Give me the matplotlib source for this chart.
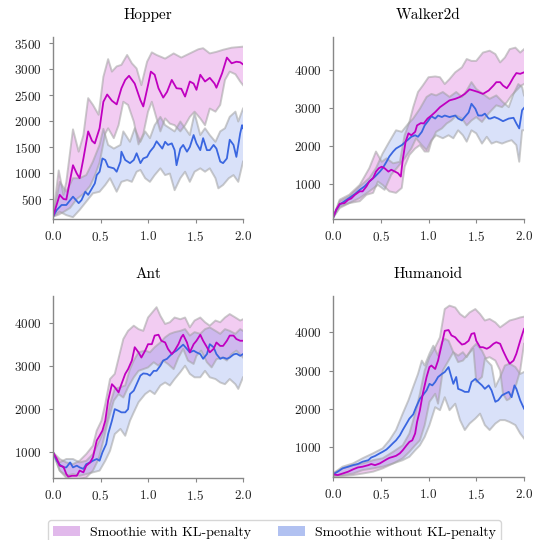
import numpy as np
import matplotlib
matplotlib.use("Agg")
import matplotlib.pyplot as plt
from matplotlib.patches import Patch

plt.rcParams['font.family'] = ['cmr10', 'DejaVu Serif']
plt.rcParams['axes.formatter.use_mathtext'] = True

# (x, value) pairs; x in training steps (scaled)
# ---- Hopper ----
hop_kl = [(0.00, 160), (0.07, 580), (0.11, 500), (0.14, 490), (0.21, 1150), (0.25, 990), (0.28, 900),
          (0.32, 1280), (0.37, 1800), (0.41, 1620), (0.44, 1570), (0.49, 1860), (0.53, 2370), (0.57, 2510),
          (0.62, 2390), (0.67, 2320), (0.72, 2630), (0.76, 2790), (0.80, 2870), (0.86, 2720), (0.92, 2400),
          (0.95, 2280), (1.00, 2690), (1.03, 2950), (1.07, 2890), (1.11, 2630), (1.16, 2450), (1.20, 2560),
          (1.25, 2790), (1.30, 2630), (1.35, 2620), (1.39, 2470), (1.44, 2760), (1.48, 2720), (1.51, 2600),
          (1.55, 2890), (1.60, 2760), (1.65, 2830), (1.70, 2720), (1.72, 2640), (1.78, 2920), (1.83, 3220),
          (1.88, 3110), (1.93, 3140), (1.97, 3130), (2.00, 3090)]
hop_kl_hi = [(0.00, 160), (0.06, 1050), (0.11, 580), (0.14, 830), (0.21, 1840), (0.27, 1410), (0.32, 1730),
             (0.37, 2440), (0.42, 2310), (0.48, 2120), (0.53, 2850), (0.58, 3190), (0.62, 2950), (0.67, 3050),
             (0.72, 3080), (0.78, 3270), (0.83, 3110), (0.88, 3010), (0.93, 2690), (0.99, 3140), (1.04, 3320),
             (1.09, 3270), (1.18, 3200), (1.27, 3300), (1.35, 3220), (1.44, 3300), (1.53, 3380), (1.58, 3400),
             (1.65, 3300), (1.72, 3330), (1.79, 3370), (1.88, 3410), (2.00, 3430)]
hop_kl_lo = [(0.00, 160), (0.06, 200), (0.11, 250), (0.18, 330), (0.25, 500), (0.32, 600), (0.39, 750),
             (0.44, 950), (0.49, 1200), (0.55, 1760), (0.58, 1860), (0.64, 1670), (0.69, 1920), (0.74, 2370),
             (0.79, 2310), (0.85, 1990), (0.90, 1550), (0.95, 1750), (1.00, 2180), (1.04, 2370), (1.09, 2050),
             (1.13, 1800), (1.18, 2050), (1.23, 1950), (1.28, 1920), (1.34, 1800), (1.39, 1920), (1.44, 2080),
             (1.49, 2180), (1.55, 2050), (1.60, 1920), (1.65, 2240), (1.71, 2180), (1.76, 2310), (1.81, 2790),
             (1.86, 2950), (1.92, 2900), (1.97, 2760), (2.00, 2690)]
hop_no = [(0.00, 160), (0.04, 290), (0.09, 385), (0.14, 385), (0.21, 545), (0.27, 420), (0.30, 480),
          (0.34, 640), (0.37, 580), (0.41, 705), (0.44, 800), (0.46, 960), (0.49, 1025), (0.52, 1280),
          (0.55, 1250), (0.58, 1120), (0.64, 1090), (0.67, 1025), (0.71, 1220), (0.72, 1410), (0.76, 1250),
          (0.81, 1190), (0.85, 1250), (0.88, 1380), (0.92, 1190), (0.95, 1280), (0.99, 1310), (1.02, 1410),
          (1.06, 1500), (1.09, 1610), (1.12, 1540), (1.15, 1470), (1.18, 1600), (1.21, 1540), (1.25, 1570),
          (1.28, 1440), (1.30, 1150), (1.34, 1470), (1.37, 1540), (1.41, 1410), (1.44, 1500), (1.48, 1730),
          (1.51, 1570), (1.55, 1440), (1.58, 1670), (1.62, 1440), (1.65, 1440), (1.69, 1540), (1.72, 1470),
          (1.76, 1220), (1.79, 1190), (1.83, 1280), (1.86, 1640), (1.90, 1540), (1.93, 1310), (1.97, 1760),
          (1.99, 1920), (2.00, 1860)]
hop_no_hi = [(0.00, 160), (0.07, 830), (0.14, 640), (0.21, 900), (0.28, 900), (0.35, 960), (0.42, 1220),
             (0.49, 1540), (0.53, 1850), (0.58, 1540), (0.64, 1470), (0.71, 1540), (0.74, 1800), (0.81, 1600),
             (0.86, 1860), (0.92, 1600), (0.97, 1800), (1.02, 1670), (1.07, 1920), (1.13, 2080), (1.18, 1920),
             (1.23, 1860), (1.28, 1800), (1.34, 1990), (1.39, 1860), (1.44, 1730), (1.49, 2150), (1.55, 1730),
             (1.60, 1860), (1.65, 1730), (1.71, 1600), (1.76, 1800), (1.81, 1860), (1.86, 2080), (1.92, 2180),
             (1.95, 1990), (2.00, 2240)]
hop_no_lo = [(0.00, 160), (0.07, 256), (0.14, 190), (0.21, 150), (0.28, 290), (0.35, 450), (0.42, 610),
             (0.49, 640), (0.55, 770), (0.60, 900), (0.67, 640), (0.72, 830), (0.78, 865), (0.83, 830),
             (0.88, 1025), (0.92, 1060), (0.97, 900), (1.02, 830), (1.07, 960), (1.13, 1090), (1.18, 960),
             (1.23, 990), (1.28, 670), (1.34, 900), (1.39, 1025), (1.44, 830), (1.49, 1025), (1.55, 1090),
             (1.60, 1025), (1.65, 1090), (1.71, 900), (1.74, 705), (1.79, 770), (1.85, 900), (1.90, 960),
             (1.95, 830), (2.00, 1220)]

# ---- Walker2d ----
wal_kl = [(0.00, 100), (0.035, 320), (0.07, 470), (0.12, 490), (0.16, 580), (0.19, 610), (0.23, 710),
          (0.28, 800), (0.31, 800), (0.35, 930), (0.38, 1060), (0.42, 1150), (0.45, 1320), (0.48, 1410),
          (0.51, 1450), (0.54, 1410), (0.58, 1320), (0.61, 1370), (0.65, 1320), (0.68, 1280), (0.71, 1190),
          (0.73, 1630), (0.76, 2110), (0.79, 2330), (0.82, 2280), (0.86, 2370), (0.88, 2540), (0.92, 2600),
          (0.95, 2590), (0.99, 2720), (1.03, 2800), (1.07, 2890), (1.12, 3020), (1.17, 3110), (1.22, 3200),
          (1.28, 3240), (1.33, 3290), (1.38, 3370), (1.43, 3490), (1.47, 3460), (1.52, 3420), (1.57, 3370),
          (1.63, 3460), (1.68, 3590), (1.71, 3680), (1.75, 3680), (1.78, 3590), (1.82, 3520), (1.85, 3630),
          (1.89, 3810), (1.92, 3920), (1.96, 3900), (2.00, 3940)]
wal_kl_hi = [(0.00, 100), (0.07, 580), (0.17, 710), (0.28, 970), (0.38, 1410), (0.45, 1850), (0.51, 1580),
             (0.56, 1670), (0.63, 1540), (0.70, 1580), (0.75, 2280), (0.80, 2630), (0.84, 3020), (0.89, 3420),
             (0.94, 3590), (1.00, 3810), (1.07, 3830), (1.12, 3810), (1.17, 3630), (1.22, 3760), (1.28, 3940),
             (1.35, 4070), (1.40, 4290), (1.45, 4240), (1.50, 4240), (1.57, 4460), (1.64, 4510), (1.70, 4420),
             (1.75, 4200), (1.80, 4330), (1.85, 4550), (1.91, 4590), (1.96, 4460), (2.00, 4550)]
wal_kl_lo = [(0.00, 100), (0.07, 360), (0.17, 490), (0.28, 540), (0.35, 710), (0.42, 760), (0.47, 1060),
             (0.52, 970), (0.59, 800), (0.66, 760), (0.72, 890), (0.75, 1450), (0.80, 1760), (0.86, 1930),
             (0.91, 2020), (0.96, 1850), (1.00, 1850), (1.03, 2110), (1.08, 2370), (1.14, 2460), (1.19, 2590),
             (1.24, 2670), (1.29, 2800), (1.35, 2720), (1.40, 2540), (1.45, 2670), (1.50, 2760), (1.56, 2630),
             (1.61, 2800), (1.66, 2940), (1.71, 3070), (1.77, 3020), (1.82, 3150), (1.87, 3330), (1.92, 3460),
             (1.97, 3590), (2.00, 3630)]
wal_no = [(0.00, 100), (0.035, 320), (0.07, 450), (0.12, 540), (0.17, 625), (0.23, 730), (0.28, 840),
          (0.33, 930), (0.38, 1060), (0.44, 1190), (0.49, 1320), (0.52, 1410), (0.56, 1580), (0.59, 1720),
          (0.63, 1850), (0.66, 1930), (0.72, 2020), (0.77, 2130), (0.82, 2240), (0.86, 2280), (0.89, 2240),
          (0.93, 2370), (0.96, 2540), (1.00, 2670), (1.03, 2780), (1.07, 2720), (1.10, 2800), (1.14, 2760),
          (1.17, 2800), (1.22, 2760), (1.28, 2800), (1.31, 2720), (1.35, 2670), (1.38, 2760), (1.42, 2880),
          (1.45, 3110), (1.49, 2980), (1.52, 2800), (1.56, 2800), (1.59, 2850), (1.63, 2720), (1.65, 2720),
          (1.69, 2760), (1.73, 2720), (1.78, 2650), (1.84, 2720), (1.89, 2740), (1.92, 2590), (1.95, 2460),
          (1.98, 2940), (2.00, 3000)]
wal_no_hi = [(0.00, 100), (0.07, 540), (0.17, 670), (0.28, 930), (0.38, 1150), (0.45, 1410), (0.52, 1800),
             (0.59, 2110), (0.66, 2410), (0.72, 2370), (0.79, 2590), (0.84, 2720), (0.91, 2980), (0.98, 3290),
             (1.03, 3370), (1.08, 3330), (1.15, 3420), (1.22, 3290), (1.29, 3420), (1.35, 3290), (1.40, 3460),
             (1.45, 3680), (1.50, 3500), (1.57, 3370), (1.64, 3240), (1.71, 3330), (1.78, 3150), (1.84, 3020),
             (1.89, 3370), (1.94, 3630), (1.98, 3550), (2.00, 3330)]
wal_no_lo = [(0.00, 100), (0.07, 400), (0.17, 490), (0.28, 625), (0.38, 800), (0.47, 970), (0.54, 840),
             (0.61, 1240), (0.68, 1450), (0.75, 1670), (0.82, 1930), (0.87, 2200), (0.93, 2020), (0.98, 1890),
             (1.03, 2150), (1.08, 2280), (1.15, 2200), (1.21, 2280), (1.26, 2200), (1.31, 2410), (1.36, 2280),
             (1.40, 2110), (1.45, 2410), (1.50, 2330), (1.56, 2060), (1.61, 2240), (1.66, 2060), (1.71, 2110),
             (1.77, 2060), (1.82, 2110), (1.87, 2150), (1.92, 2020), (1.95, 1580), (1.98, 2410), (2.00, 2410)]

# ---- Ant ----
ant_kl = [(0.00, 985), (0.04, 830), (0.07, 675), (0.11, 650), (0.14, 480), (0.16, 420), (0.20, 440),
          (0.25, 440), (0.28, 560), (0.32, 520), (0.35, 675), (0.39, 750), (0.42, 870), (0.46, 1260),
          (0.49, 1370), (0.52, 1490), (0.55, 1720), (0.58, 2190), (0.62, 2570), (0.65, 2500), (0.69, 2380),
          (0.72, 2570), (0.76, 2810), (0.79, 2920), (0.83, 3120), (0.86, 3430), (0.90, 3310), (0.93, 3190),
          (0.97, 3350), (1.00, 3500), (1.04, 3500), (1.07, 3700), (1.11, 3720), (1.14, 3580), (1.18, 3540),
          (1.21, 3390), (1.25, 3270), (1.28, 3350), (1.32, 3500), (1.35, 3660), (1.37, 3720), (1.41, 3540),
          (1.44, 3310), (1.48, 3500), (1.51, 3580), (1.55, 3720), (1.58, 3580), (1.62, 3430), (1.65, 3310),
          (1.69, 3390), (1.72, 3540), (1.76, 3460), (1.79, 3460), (1.83, 3580), (1.86, 3700), (1.90, 3700),
          (1.93, 3620), (1.97, 3580), (2.00, 3580)]
ant_kl_hi = [(0.00, 985), (0.07, 830), (0.14, 750), (0.21, 710), (0.28, 790), (0.35, 945), (0.42, 1140),
             (0.46, 1490), (0.51, 1720), (0.55, 2110), (0.60, 2690), (0.65, 2810), (0.71, 3350), (0.74, 3620),
             (0.79, 3810), (0.85, 3930), (0.90, 3850), (0.95, 3810), (1.00, 4120), (1.06, 4280), (1.09, 4360),
             (1.13, 4160), (1.18, 3970), (1.23, 4010), (1.28, 4120), (1.34, 4080), (1.39, 4120), (1.44, 3890),
             (1.49, 4050), (1.55, 4120), (1.60, 4010), (1.65, 3930), (1.71, 4050), (1.76, 4010), (1.81, 4120),
             (1.86, 4200), (1.92, 4120), (1.97, 4050), (2.00, 4080)]
ant_kl_lo = [(0.00, 985), (0.07, 560), (0.14, 390), (0.21, 370), (0.28, 370), (0.35, 400), (0.42, 560),
             (0.48, 830), (0.53, 1260), (0.58, 1720), (0.64, 2190), (0.69, 2340), (0.74, 2260), (0.79, 2500),
             (0.85, 2730), (0.90, 2880), (0.95, 2920), (1.00, 2960), (1.06, 3080), (1.11, 3000), (1.16, 3120),
             (1.21, 3040), (1.27, 2920), (1.32, 3190), (1.37, 3390), (1.42, 3120), (1.48, 3040), (1.51, 3230),
             (1.56, 3350), (1.62, 3080), (1.67, 2960), (1.72, 3150), (1.78, 3190), (1.83, 3120), (1.88, 3270),
             (1.93, 3350), (2.00, 3190)]
ant_no = [(0.00, 985), (0.04, 790), (0.07, 700), (0.11, 635), (0.14, 635), (0.18, 750), (0.21, 635),
          (0.25, 675), (0.28, 635), (0.32, 600), (0.35, 710), (0.39, 750), (0.42, 790), (0.46, 830),
          (0.49, 790), (0.52, 985), (0.56, 1180), (0.58, 1410), (0.62, 1720), (0.65, 1990), (0.69, 1950),
          (0.72, 1915), (0.76, 1915), (0.79, 1990), (0.81, 2340), (0.85, 2420), (0.88, 2570), (0.92, 2770),
          (0.95, 2820), (0.99, 2810), (1.02, 2770), (1.06, 2880), (1.09, 2880), (1.13, 3000), (1.16, 3120),
          (1.20, 3160), (1.23, 3230), (1.27, 3310), (1.30, 3350), (1.34, 3430), (1.37, 3490), (1.41, 3390),
          (1.44, 3310), (1.48, 3350), (1.51, 3310), (1.55, 3270), (1.58, 3160), (1.62, 3270), (1.65, 3500),
          (1.69, 3430), (1.72, 3270), (1.76, 3160), (1.79, 3190), (1.83, 3160), (1.86, 3190), (1.90, 3260),
          (1.93, 3280), (1.97, 3230), (2.00, 3270)]
ant_no_hi = [(0.00, 985), (0.07, 750), (0.14, 830), (0.21, 830), (0.28, 750), (0.35, 790), (0.42, 945),
             (0.49, 1260), (0.55, 1570), (0.60, 2110), (0.65, 2460), (0.71, 2500), (0.76, 2540), (0.81, 2920),
             (0.85, 3120), (0.90, 3310), (0.97, 3350), (1.02, 3310), (1.07, 3430), (1.13, 3540), (1.18, 3660),
             (1.23, 3740), (1.28, 3780), (1.34, 3810), (1.39, 3850), (1.44, 3700), (1.49, 3780), (1.55, 3740),
             (1.60, 3850), (1.65, 3890), (1.71, 3810), (1.76, 3740), (1.81, 3850), (1.86, 3810), (1.92, 3740),
             (1.97, 3850), (2.00, 3810)]
ant_no_lo = [(0.00, 985), (0.07, 560), (0.14, 440), (0.21, 480), (0.28, 440), (0.35, 480), (0.42, 520),
             (0.49, 560), (0.55, 790), (0.60, 1020), (0.65, 1410), (0.71, 1530), (0.76, 1370), (0.81, 1720),
             (0.85, 1915), (0.90, 2150), (0.97, 2340), (1.02, 2420), (1.07, 2340), (1.13, 2540), (1.18, 2610),
             (1.23, 2540), (1.28, 2690), (1.34, 2850), (1.39, 3000), (1.44, 2810), (1.49, 2730), (1.55, 2730),
             (1.60, 2880), (1.65, 2730), (1.71, 2690), (1.76, 2610), (1.81, 2570), (1.86, 2690), (1.92, 2570),
             (1.95, 2460), (2.00, 2730)]

# ---- Humanoid ----
hum_kl = [(0.00, 280), (0.05, 260), (0.10, 300), (0.16, 350), (0.21, 410), (0.26, 460), (0.31, 480),
          (0.37, 520), (0.40, 550), (0.44, 520), (0.49, 565), (0.52, 610), (0.56, 670), (0.59, 710),
          (0.63, 740), (0.66, 765), (0.70, 830), (0.73, 910), (0.77, 1040), (0.80, 1130), (0.83, 1170),
          (0.86, 1350), (0.88, 1650), (0.91, 1960), (0.94, 2390), (0.98, 2830), (1.01, 3090), (1.03, 3130),
          (1.07, 3040), (1.10, 3260), (1.14, 3700), (1.17, 4040), (1.21, 4060), (1.24, 3920), (1.28, 3870),
          (1.31, 3780), (1.35, 3680), (1.38, 3700), (1.42, 3780), (1.45, 3960), (1.48, 3980), (1.50, 3780),
          (1.54, 3610), (1.57, 3610), (1.61, 3570), (1.64, 3610), (1.68, 3700), (1.71, 3740), (1.75, 3700),
          (1.78, 3520), (1.82, 3310), (1.85, 3180), (1.89, 3260), (1.92, 3440), (1.96, 3780), (2.00, 4090)]
hum_kl_hi = [(0.00, 300), (0.10, 435), (0.21, 520), (0.31, 565), (0.42, 650), (0.52, 700), (0.63, 870),
             (0.73, 1040), (0.80, 1350), (0.86, 1870), (0.91, 2390), (0.96, 3000), (1.01, 3350), (1.07, 3610),
             (1.12, 3870), (1.17, 4610), (1.22, 4700), (1.28, 4650), (1.33, 4480), (1.38, 4390), (1.43, 4520),
             (1.49, 4610), (1.54, 4480), (1.59, 4310), (1.64, 4350), (1.70, 4260), (1.75, 4130), (1.80, 4220),
             (1.85, 4310), (1.91, 4350), (1.96, 4390), (2.00, 4410)]
hum_kl_lo = [(0.00, 250), (0.10, 234), (0.21, 260), (0.31, 300), (0.42, 350), (0.52, 435), (0.63, 565),
             (0.73, 700), (0.80, 870), (0.86, 1040), (0.91, 1170), (0.96, 1570), (1.01, 2180), (1.07, 2390),
             (1.10, 2130), (1.15, 3000), (1.21, 3260), (1.26, 3480), (1.31, 3220), (1.36, 3260), (1.42, 3440),
             (1.47, 3570), (1.50, 2700), (1.56, 2830), (1.59, 3310), (1.64, 3350), (1.70, 3260), (1.75, 3000),
             (1.78, 2390), (1.82, 2220), (1.85, 2260), (1.89, 2480), (1.92, 2650), (1.96, 3000), (2.00, 3700)]
hum_no = [(0.00, 280), (0.05, 350), (0.10, 435), (0.16, 480), (0.21, 520), (0.26, 550), (0.31, 610),
          (0.37, 650), (0.40, 720), (0.44, 760), (0.49, 830), (0.52, 870), (0.56, 930), (0.59, 1000),
          (0.63, 1100), (0.66, 1170), (0.70, 1300), (0.73, 1440), (0.77, 1610), (0.80, 1740), (0.84, 1850),
          (0.87, 2040), (0.91, 2260), (0.94, 2350), (0.98, 2480), (1.01, 2650), (1.04, 2610), (1.07, 2700),
          (1.10, 2830), (1.14, 2910), (1.17, 2960), (1.21, 3090), (1.23, 2910), (1.26, 2650), (1.29, 2830),
          (1.31, 2520), (1.35, 2480), (1.38, 2440), (1.42, 2440), (1.45, 2700), (1.49, 2780), (1.52, 2700),
          (1.56, 2610), (1.59, 2520), (1.63, 2610), (1.66, 2480), (1.70, 2180), (1.73, 2220), (1.77, 2350),
          (1.80, 2390), (1.84, 2440), (1.87, 2300), (1.90, 2610), (1.92, 2520), (1.96, 2220), (2.00, 2000)]
hum_no_hi = [(0.00, 300), (0.10, 480), (0.21, 565), (0.31, 700), (0.42, 830), (0.52, 960), (0.59, 1170),
             (0.66, 1440), (0.73, 1870), (0.79, 2220), (0.84, 2570), (0.89, 2910), (0.93, 3260), (0.96, 3130),
             (1.01, 3440), (1.05, 3650), (1.10, 3390), (1.14, 3740), (1.17, 3830), (1.21, 3780), (1.26, 3480),
             (1.31, 3390), (1.36, 3480), (1.40, 3350), (1.45, 3570), (1.50, 3700), (1.56, 3520), (1.61, 3260),
             (1.66, 3130), (1.70, 2570), (1.75, 2830), (1.80, 3130), (1.85, 3180), (1.91, 3090), (1.96, 2910),
             (2.00, 2960)]
hum_no_lo = [(0.00, 230), (0.10, 260), (0.21, 300), (0.31, 390), (0.42, 435), (0.52, 480), (0.63, 565),
             (0.73, 650), (0.80, 740), (0.86, 910), (0.91, 1040), (0.96, 1260), (1.01, 1570), (1.07, 2040),
             (1.12, 1960), (1.17, 2300), (1.22, 1960), (1.28, 2130), (1.33, 1700), (1.38, 1440), (1.43, 1610),
             (1.49, 1740), (1.54, 1870), (1.59, 1570), (1.64, 1440), (1.70, 1610), (1.75, 1700), (1.80, 1700),
             (1.85, 1650), (1.91, 1570), (1.96, 1350), (2.00, 1220)]

titles = ["Hopper", "Walker2d", "Ant", "Humanoid"]
ylims = [(115, 3615), (70, 4870), (388, 4620), (210, 4950)]
yticks = [[500, 1000, 1500, 2000, 2500, 3000, 3500],
          [1000, 2000, 3000, 4000],
          [1000, 2000, 3000, 4000],
          [1000, 2000, 3000, 4000]]
panels = [
    (hop_kl, hop_kl_hi, hop_kl_lo, hop_no, hop_no_hi, hop_no_lo),
    (wal_kl, wal_kl_hi, wal_kl_lo, wal_no, wal_no_hi, wal_no_lo),
    (ant_kl, ant_kl_hi, ant_kl_lo, ant_no, ant_no_hi, ant_no_lo),
    (hum_kl, hum_kl_hi, hum_kl_lo, hum_no, hum_no_hi, hum_no_lo),
]

kl_line = '#c000c0'
no_line = '#3a66e0'
kl_fill = '#c000c0'
no_fill = '#4169e1'
edge = '#a0a0a0'


def xy(pairs):
    a = np.array(pairs, dtype=float)
    return a[:, 0], a[:, 1]


def band(ax, hi, lo, color):
    xh, yh = xy(hi)
    xl, yl = xy(lo)
    ax.fill(np.concatenate([xh, xl[::-1]]), np.concatenate([yh, yl[::-1]]),
            color=color, alpha=0.2, lw=0)
    ax.plot(xh, yh, color=edge, lw=1.4, alpha=0.55)
    ax.plot(xl, yl, color=edge, lw=1.4, alpha=0.55)


fig = plt.figure(figsize=(5.34, 5.40), dpi=100)
rects = [[0.0993, 0.5944, 0.3558, 0.337], [0.6236, 0.5944, 0.3577, 0.337],
         [0.0993, 0.1148, 0.3558, 0.337], [0.6236, 0.1167, 0.3577, 0.335]]

for i, rect in enumerate(rects):
    ax = fig.add_axes(rect)
    kl, kl_hi, kl_lo, no, no_hi, no_lo = panels[i]
    band(ax, kl_hi, kl_lo, kl_fill)
    band(ax, no_hi, no_lo, no_fill)
    ax.plot(*xy(no), color=no_line, lw=1.3)
    ax.plot(*xy(kl), color=kl_line, lw=1.3)
    ax.set_xlim(0, 2)
    ax.set_ylim(*ylims[i])
    ax.set_xticks([0, 0.5, 1.0, 1.5, 2.0])
    ax.set_yticks(yticks[i])
    ax.set_title(titles[i], fontsize=11, pad=13)
    for s in ['top', 'right']:
        ax.spines[s].set_visible(False)
    for s in ['left', 'bottom']:
        ax.spines[s].set_color('#888888')
        ax.spines[s].set_linewidth(1.0)
    ax.tick_params(direction='out', length=3, width=0.8, color='#888888',
                   labelsize=9.5, labelcolor='#222222', pad=5)

handles = [Patch(facecolor='#e1b9eb', edgecolor='none', label='Smoothie with KL-penalty'),
           Patch(facecolor='#b1c1f1', edgecolor='none', label='Smoothie without KL-penalty')]
fig.legend(handles=handles, loc='upper center', bbox_to_anchor=(0.514, 0.037), ncol=2,
           fontsize=10, frameon=True, edgecolor='#cccccc', fancybox=True, borderaxespad=0,
           borderpad=0.4, handlelength=1.95, handleheight=0.8, handletextpad=0.7,
           columnspacing=1.9)

fig.savefig("out.png", dpi=100)
